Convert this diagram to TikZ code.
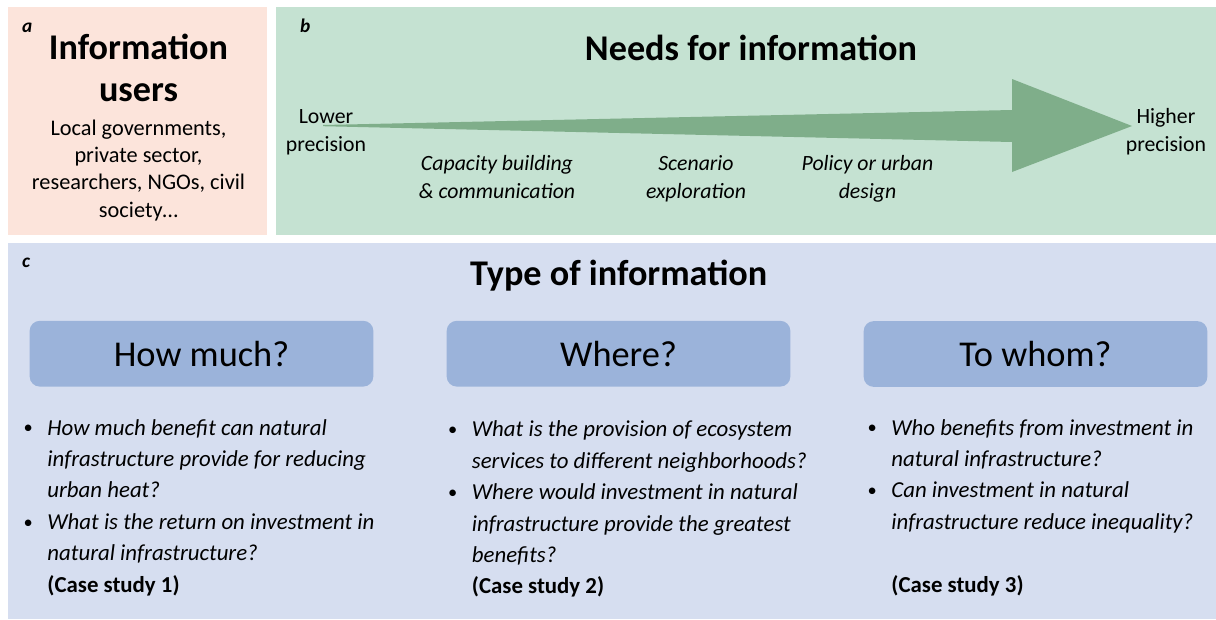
\documentclass[tikz,border=0pt]{standalone}
\usepackage{fontspec}
\setmainfont{Carlito}
\definecolor{panelA}{HTML}{FCE4DB}
\definecolor{panelB}{HTML}{C5E2D2}
\definecolor{panelC}{HTML}{D6DEF0}
\definecolor{boxC}{HTML}{9BB3DA}
\definecolor{arrowC}{HTML}{7FAE8A}
\newcommand{\blk}[1]{\begin{tabular}[t]{@{}c@{}}#1\end{tabular}}
\newcommand{\bul}{\makebox[13.6pt][l]{\raisebox{0.6pt}{\fontsize{10.5}{10.5}\selectfont\textbullet}}}
\newcommand{\lst}[1]{\begin{tabular}[t]{@{}l@{}l@{}}#1\end{tabular}}
\begin{document}
\begin{tikzpicture}[x=0.02cm,y=-0.02cm,
  txt/.style={inner sep=0pt, outer sep=0pt, anchor=base},
  lab/.style={txt, anchor=base west, font=\fontsize{11}{13}\selectfont\bfseries\itshape},
  bigtitle/.style={txt, font=\fontsize{20.6}{24}\selectfont\bfseries},
  subtxt/.style={txt, font=\fontsize{12.7}{15.6}\selectfont},
  endtxt/.style={txt, font=\fontsize{12.4}{16.1}\selectfont},
  needtxt/.style={txt, font=\fontsize{12.4}{16}\selectfont\itshape},
  qbox/.style={fill=boxC, rounded corners=5.7pt, minimum width=195.6pt, minimum height=37.4pt, inner sep=0pt, font=\fontsize{20.7}{24}\selectfont},
  qlist/.style={txt, anchor=base west, font=\fontsize{13}{17.9}\selectfont}
]
\useasboundingbox (0,0) rectangle (1216,619);
% panels
\fill[panelA] (8,7) rectangle (267,235);
\fill[panelB] (275.5,7) rectangle (1216,235);
\fill[panelC] (8,243) rectangle (1216,619);
% arrow
\fill[arrowC] (323,125) -- (1012,110) -- (1012,79) -- (1132,126) -- (1012,172) -- (1012,142) -- (323,126.2) -- cycle;
% panel labels
\node[lab] (la) at (22,32) {a};
\node[lab] (lb) at (300,32) {b};
\node[lab] (lc) at (22,267) {c};
% panel a
\node[bigtitle] (iu) at (138.5,59.3) {\blk{Information\\users}};
\node[subtxt] (users) at (138.5,135) {\blk{Local governments,\\private sector,\\researchers, NGOs, civil\\society…}};
% panel b
\node[bigtitle] (nfi) at (751,60) {Needs for information};
\node[endtxt] (lower) at (326,123.3) {\blk{Lower\\precision}};
\node[endtxt] (higher) at (1166,123.3) {\blk{Higher\\precision}};
\node[needtxt] (cap) at (497,170) {\blk{Capacity building\\\& communication}};
\node[needtxt] (scen) at (696,170) {\blk{Scenario\\exploration}};
\node[needtxt] (pol) at (867.5,170) {\blk{Policy or urban\\design}};
% panel c
\node[bigtitle] (toi) at (618.7,285.7) {Type of information};
\node[qbox] (hm) at (201.5,353.7) {How much?};
\node[qbox] (wh) at (618.5,353.7) {Where?};
\node[qbox] (tw) at (1035.5,354) {To whom?};
\node[qlist] (q1) at (23.5,435) {\lst{%
\bul & \textit{How much benefit can natural}\\
 & \textit{infrastructure provide for reducing}\\
 & \textit{urban heat?}\\
\bul & \textit{What is the return on investment in}\\
 & \textit{natural infrastructure?}\\
 & \textbf{(Case study 1)}}};
\node[qlist] (q2) at (448,436.7) {\lst{%
\bul & \textit{What is the provision of ecosystem}\\
 & \textit{services to different neighborhoods?}\\
\bul & \textit{Where would investment in natural}\\
 & \textit{infrastructure provide the greatest}\\
 & \textit{benefits?}\\
 & \textbf{(Case study 2)}}};
\node[qlist] (q3) at (867.5,435) {\lst{%
\bul & \textit{Who benefits from investment in}\\
 & \textit{natural infrastructure?}\\
\bul & \textit{Can investment in natural}\\
 & \textit{infrastructure reduce inequality?}\\
 & \\
 & \textbf{(Case study 3)}}};
\end{tikzpicture}
\end{document}
